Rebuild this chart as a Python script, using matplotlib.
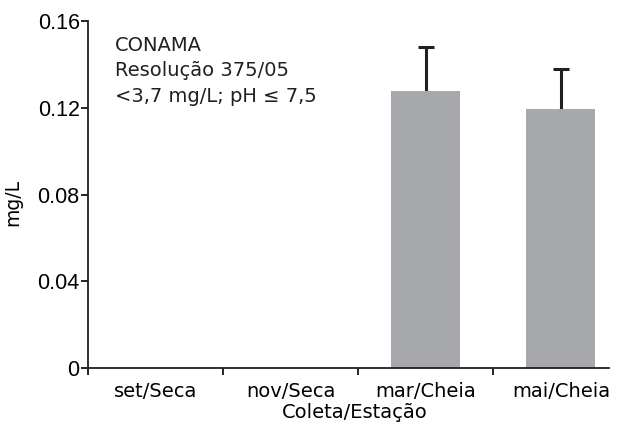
import numpy as np
import matplotlib
matplotlib.use("Agg")
import matplotlib.pyplot as plt

# data
categories = ["set/Seca", "nov/Seca", "mar/Cheia", "mai/Cheia"]
values = [0, 0, 0.128, 0.1195]
errors = [0, 0, 0.020, 0.0185]
yticks = [0, 0.04, 0.08, 0.12, 0.16]
ytick_labels = ["0", "0.04", "0.08", "0.12", "0.16"]

fig = plt.figure(figsize=(6.25, 4.23), dpi=100)
ax = fig.add_axes([0.1408, 0.130, 0.8336, 0.820])

x = np.arange(len(categories))
shown = [i for i in x if values[i] > 0]
ax.bar([x[i] for i in shown], [values[i] for i in shown], width=0.51,
       color="#a7a8ab", zorder=2)
eb = ax.errorbar([x[i] for i in shown], [values[i] for i in shown],
                 yerr=[[0] * len(shown), [errors[i] for i in shown]],
                 fmt="none", ecolor="#231f20", elinewidth=2.2, capsize=5.5,
                 capthick=2.2, zorder=1)
# only the upper cap is drawn in the original
eb.lines[1][0].set_visible(False)

ax.set_xlim(-0.5, 3.356)
ax.set_ylim(0, 0.16)

# ticks sit at the boundaries, labels at the centres
ax.set_xticks(np.arange(-0.5, 3, 1.0))
ax.set_xticklabels([])
ax.set_xticks(x, minor=True)
ax.set_xticklabels(categories, minor=True, fontsize=14, family="DejaVu Sans")
ax.tick_params(axis="x", which="minor", length=0, pad=10)
ax.tick_params(axis="x", which="major", length=5, width=1.2, direction="out")

ax.set_yticks(yticks)
ax.set_yticklabels(ytick_labels, fontsize=15.5, family="Liberation Sans")
ax.tick_params(axis="y", length=5, width=1.2, direction="out", pad=1)

for side in ["top", "right"]:
    ax.spines[side].set_visible(False)
for side in ["left", "bottom"]:
    ax.spines[side].set_linewidth(1.3)
    ax.spines[side].set_color("#231f20")

ax.set_ylabel("mg/L", fontsize=13.5, family="DejaVu Sans")
ax.yaxis.set_label_coords(-0.127, 0.478)
ax.set_xlabel("Coleta/Estação", fontsize=14, family="DejaVu Sans")
ax.xaxis.set_label_coords(0.512, -0.128)
ax.xaxis.label.set_va("center")

ax.text(0.052, 0.957, "CONAMA\nResolução 375/05\n<3,7 mg/L; pH ≤ 7,5",
        transform=ax.transAxes, fontsize=14, family="DejaVu Sans",
        va="top", ha="left", linespacing=1.42, color="#231f20")

fig.savefig("out.png", dpi=100)
